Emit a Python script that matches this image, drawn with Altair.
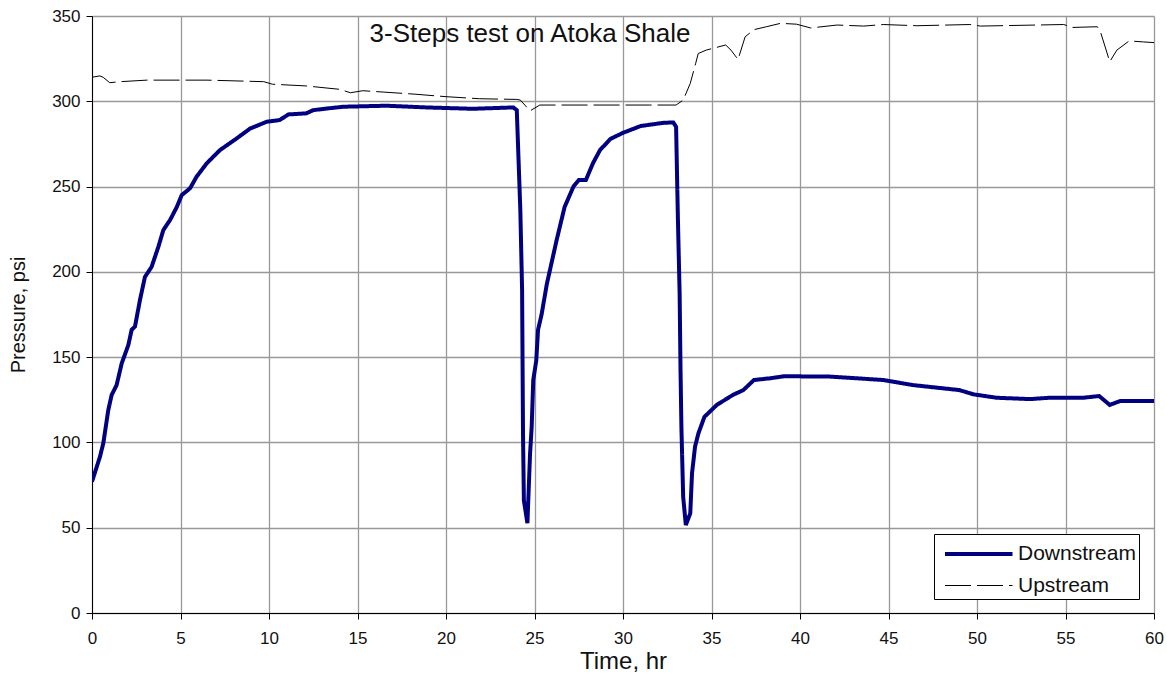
import altair as alt
import pandas as pd

down_t = [0.0, 0.45, 0.64, 0.92, 1.11, 1.39, 1.68, 2.05, 2.24, 2.43, 2.71, 2.99, 3.37, 3.75, 4.03, 4.41,
          4.79, 5.07, 5.54, 5.91, 6.48, 7.23, 8.17, 8.93, 9.87, 10.6, 11.1, 12.1, 12.5, 13.3, 14.2, 16.6,
          18.9, 21.5, 23.8, 24.0, 24.05, 24.2, 24.3, 24.35, 24.4, 24.6, 24.75, 24.84, 24.93, 25.1, 25.2,
          25.4, 25.7, 26.25, 26.7, 27.2, 27.5, 27.9, 28.3, 28.7, 29.3, 30.0, 31.0, 32.3, 32.84, 33.0,
          33.1, 33.2, 33.25, 33.3, 33.4, 33.55, 33.8, 33.9, 34.07, 34.26, 34.6, 35.3, 36.2, 36.8, 37.4,
          38.3, 39.1, 41.7, 44.7, 46.4, 49.0, 49.8, 51.1, 53.0, 54.1, 56.0, 56.9, 57.5, 58.1, 60.0]
down_p = [77, 91.6, 99.6, 119, 127.8, 133.6, 146.4, 157, 166, 168, 183.5, 197, 203, 214.7, 224.5, 230.4,
          238, 245, 249, 255.8, 263.6, 271.4, 278.2, 284, 288, 289, 292.3, 292.9, 294.8, 295.8, 296.8, 297.4,
          296.4, 295.6, 296.4, 294.8, 280, 236, 189, 106, 66, 52.6, 93.6, 109, 136.6, 148, 166,
          175, 193, 218.6, 238, 250, 253.8, 253.8, 263.6, 271.4, 278, 281.5, 285.5, 287.4, 287.6, 285,
          232, 187, 142.4, 109, 68, 51.6, 58.4, 82, 97.5, 105.3, 115, 122, 127.8, 130.7, 136.6,
          137.6, 138.8, 138.6, 136.6, 133.6, 130.7, 128.2, 126.2, 125.4, 126.2, 126.2, 127.2, 122, 124.3, 124.3]

up_t = [0.0, 0.45, 0.64, 1.0, 1.6, 3.1, 6.5, 9.7, 10.2, 12.1, 14.0, 14.6, 15.3, 18.2, 20.0, 21.9, 24.0,
        24.2, 24.75, 25.3, 27.8, 31.5, 33.0, 33.4, 33.8, 34.1, 34.25, 34.7, 35.8, 36.1, 36.5, 36.9, 37.4,
        38.1, 38.9, 39.8, 40.6, 42.1, 43.6, 44.7, 46.6, 49.6, 50.2, 54.9, 55.4, 56.8, 57.0, 57.5, 57.9,
        58.6, 59.4, 60.0]
up_p = [314.1, 314.9, 314.0, 310.9, 311.5, 312.4, 312.4, 311.5, 310.0, 309.0, 307.0, 305.0, 306.2, 304.2,
        302.7, 301.5, 301.1, 300.7, 294.4, 297.8, 297.8, 297.8, 297.8, 300.7, 310.5, 322.0, 328.0, 330.0,
        333.0, 330.0, 324.5, 337.8, 342.0, 343.7, 345.7, 345.2, 343.0, 344.7, 344.1, 345.0, 344.3, 345.0,
        344.1, 345.0, 343.3, 343.7, 339.9, 323.2, 330.0, 335.4, 334.8, 334.4]

series = ["Downstream", "Upstream"]

df = pd.concat([
    pd.DataFrame({"t": down_t, "p": down_p, "s": series[0]}),
    pd.DataFrame({"t": up_t, "p": up_p, "s": series[1]}),
])

FONT = "Liberation Sans"

leg = alt.Legend(orient="none", legendX=842, legendY=518, direction="vertical", title=None,
                 strokeColor="black", fillColor="white", padding=3, cornerRadius=0,
                 symbolType="M-0.6,0H3.9", symbolSize=900, labelFontSize=21, labelFont=FONT,
                 labelColor="#111", rowPadding=6, labelOffset=47, symbolOffset=0,
                 labelLimit=300)

lines = alt.Chart(df).mark_line(interpolate="linear", strokeJoin="miter", clip=True).encode(
    x=alt.X("t:Q", title="Time, hr",
            scale=alt.Scale(domain=[0, 60], nice=False, zero=True),
            axis=alt.Axis(values=list(range(0, 61, 5)), labelFontSize=17, titleFontSize=24,
                          titleFont=FONT, labelFont=FONT, titleColor="#111", labelColor="#111",
                          titleFontWeight="normal",
                          titleAnchor="middle", titlePadding=3, labelPadding=11,
                          domainColor="black", tickColor="black", tickSize=6,
                          gridColor="#999999", gridWidth=1.3, labelFlush=False)),
    y=alt.Y("p:Q", title="Pressure, psi",
            scale=alt.Scale(domain=[0, 350], nice=False),
            axis=alt.Axis(values=list(range(0, 351, 50)), labelFontSize=17, titleFontSize=20,
                          titleFont=FONT, labelFont=FONT, titleColor="#111", labelColor="#111",
                          titleFontWeight="normal",
                          titlePadding=23, labelPadding=6,
                          domainColor="black", tickColor="black", tickSize=6,
                          gridColor="#999999", gridWidth=1.3)),
    color=alt.Color("s:N", legend=leg,
                    scale=alt.Scale(domain=series, range=["#000080", "#000000"])),
    strokeWidth=alt.StrokeWidth("s:N", legend=leg,
                                scale=alt.Scale(domain=series, range=[4, 1])),
    strokeDash=alt.StrokeDash("s:N", legend=leg,
                              scale=alt.Scale(domain=series, range=[[1, 0], [26, 6]])),
    order=alt.Order("t:Q"),
)

title = alt.Chart(pd.DataFrame({"txt": ["3-Steps test on Atoka Shale"]})).mark_text(
    font=FONT, fontSize=26, color="#111", baseline="middle", align="center"
).encode(text="txt:N", x=alt.value(438), y=alt.value(18))

chart = alt.layer(lines, title).properties(
    width=1062, height=597,
    autosize=alt.AutoSizeParams(type="none"),
    padding={"left": 92, "top": 16, "right": 13, "bottom": 68},
).configure_view(stroke="#999999", strokeWidth=1).configure(background="white")

chart.save("out.html", embed_options={"renderer": "svg", "actions": False})
